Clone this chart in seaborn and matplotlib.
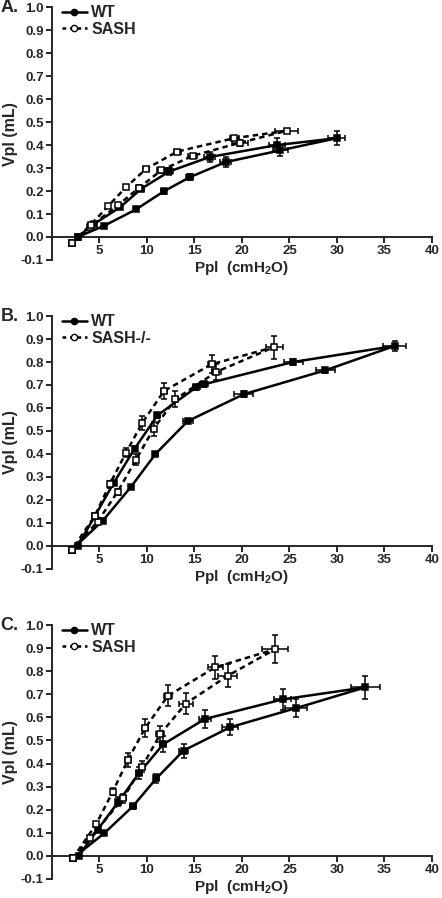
import numpy as np
import pandas as pd
import matplotlib
matplotlib.use("Agg")
import matplotlib.pyplot as plt
from matplotlib.lines import Line2D
import seaborn as sns

# ---- data: each series is one loop (inflation then deflation) ----
# Panel A
a_wt_p = [2.7, 5.5, 8.85, 11.75, 14.5, 18.3, 24.05, 30.0, 23.7, 16.6, 12.35, 9.4, 7.2, 4.4, 2.7]
a_wt_v = [0.0, 0.049, 0.12, 0.198, 0.26, 0.326, 0.377, 0.43, 0.40, 0.348, 0.285, 0.21, 0.13, 0.056, 0.0]
a_wt_pe = [0.1, 0.2, 0.2, 0.3, 0.4, 0.6, 0.8, 0.9, 0.8, 0.6, 0.4, 0.3, 0.2, 0.2, 0.1]
a_wt_ve = [0.005, 0.007, 0.008, 0.01, 0.012, 0.02, 0.025, 0.03, 0.03, 0.02, 0.015, 0.012, 0.01, 0.008, 0.005]
a_sa_p = [2.1, 4.0, 7.0, 9.2, 11.5, 14.8, 19.8, 24.7, 19.2, 13.2, 9.9, 7.8, 5.95, 4.1, 2.1]
a_sa_v = [-0.025, 0.045, 0.14, 0.215, 0.29, 0.353, 0.41, 0.462, 0.43, 0.372, 0.296, 0.217, 0.136, 0.054, -0.025]
a_sa_pe = [0.1, 0.2, 0.2, 0.3, 0.4, 0.5, 0.8, 1.2, 0.5, 0.4, 0.3, 0.2, 0.2, 0.1, 0.1]
a_sa_ve = [0.005, 0.006, 0.008, 0.01, 0.01, 0.01, 0.012, 0.01, 0.01, 0.008, 0.008, 0.006, 0.006, 0.005, 0.005]

# Panel B
b_wt_p = [2.1, 5.35, 8.3, 10.9, 14.3, 20.2, 28.8, 36.1, 25.4, 16.0, 15.2, 11.1, 8.7, 6.5, 4.5, 2.7]
b_wt_v = [-0.016, 0.11, 0.256, 0.40, 0.543, 0.66, 0.764, 0.87, 0.80, 0.703, 0.69, 0.568, 0.423, 0.274, 0.129, 0.0]
b_wt_pe = [0.1, 0.2, 0.2, 0.3, 0.5, 1.0, 1.0, 1.2, 1.0, 0.4, 0.4, 0.3, 0.2, 0.2, 0.2, 0.1]
b_wt_ve = [0.005, 0.008, 0.01, 0.01, 0.01, 0.012, 0.012, 0.02, 0.015, 0.01, 0.01, 0.01, 0.01, 0.01, 0.008, 0.005]
b_sa_p = [2.1, 4.8, 6.9, 8.85, 10.7, 13.0, 17.3, 23.4, 16.8, 11.8, 9.5, 7.8, 6.1, 4.5, 2.1]
b_sa_v = [-0.016, 0.105, 0.235, 0.375, 0.51, 0.638, 0.757, 0.865, 0.79, 0.674, 0.535, 0.406, 0.27, 0.13, -0.016]
b_sa_pe = [0.1, 0.2, 0.2, 0.2, 0.3, 0.3, 0.5, 0.9, 0.4, 0.3, 0.2, 0.2, 0.2, 0.2, 0.1]
b_sa_ve = [0.005, 0.008, 0.012, 0.025, 0.03, 0.035, 0.035, 0.05, 0.04, 0.035, 0.03, 0.02, 0.012, 0.008, 0.005]

# Panel C
c_wt_p = [2.2, 5.5, 8.5, 11.0, 13.85, 18.75, 25.7, 33.0, 24.3, 16.1, 11.7, 9.2, 7.0, 4.8, 2.8]
c_wt_v = [-0.01, 0.098, 0.214, 0.336, 0.456, 0.557, 0.64, 0.73, 0.678, 0.593, 0.483, 0.36, 0.235, 0.113, 0.0]
c_wt_pe = [0.1, 0.2, 0.3, 0.3, 0.5, 0.8, 1.2, 1.5, 0.9, 0.6, 0.3, 0.3, 0.3, 0.2, 0.1]
c_wt_ve = [0.005, 0.008, 0.012, 0.02, 0.03, 0.035, 0.04, 0.05, 0.045, 0.04, 0.035, 0.025, 0.02, 0.01, 0.005]
c_sa_p = [2.2, 4.0, 7.5, 9.5, 11.4, 14.1, 18.5, 23.5, 17.2, 12.2, 9.8, 8.0, 6.4, 4.65, 2.2]
c_sa_v = [-0.01, 0.076, 0.25, 0.387, 0.527, 0.66, 0.78, 0.895, 0.817, 0.693, 0.553, 0.416, 0.278, 0.137, -0.01]
c_sa_pe = [0.1, 0.2, 0.3, 0.3, 0.4, 0.7, 1.0, 1.4, 0.8, 0.4, 0.3, 0.3, 0.2, 0.2, 0.1]
c_sa_ve = [0.005, 0.01, 0.02, 0.025, 0.035, 0.045, 0.05, 0.06, 0.05, 0.045, 0.04, 0.03, 0.015, 0.01, 0.005]

panels = [
    ("A.", "SASH", (a_wt_p, a_wt_v, a_wt_pe, a_wt_ve), (a_sa_p, a_sa_v, a_sa_pe, a_sa_ve)),
    ("B.", "SASH-/-", (b_wt_p, b_wt_v, b_wt_pe, b_wt_ve), (b_sa_p, b_sa_v, b_sa_pe, b_sa_ve)),
    ("C.", "SASH", (c_wt_p, c_wt_v, c_wt_pe, c_wt_ve), (c_sa_p, c_sa_v, c_sa_pe, c_sa_ve)),
]

x_ticks = [5, 10, 15, 20, 25, 30, 35, 40]
y_ticks = [round(-0.1 + 0.1 * i, 1) for i in range(12)]

sns.set_style("ticks")
plt.rcParams["font.family"] = ["Liberation Sans", "DejaVu Sans"]
plt.rcParams["font.weight"] = "bold"
plt.rcParams["mathtext.fontset"] = "custom"
plt.rcParams["mathtext.rm"] = "Liberation Sans:bold"
plt.rcParams["mathtext.bf"] = "Liberation Sans:bold"

fig = plt.figure(figsize=(4.42, 8.98), dpi=100)
# axes boxes [left, bottom, width, height] in figure fraction
boxes = [[0.1176, 0.7105, 0.8594, 0.2815],
         [0.1176, 0.3664, 0.8594, 0.2817],
         [0.1176, 0.0212, 0.8594, 0.2828]]

for (label, sash_name, wt, sa), box in zip(panels, boxes):
    ax = fig.add_axes(box)
    for data, ls, face in [(wt, "-", "black"), (sa, (0, (2.2, 1.6)), "white")]:
        p, v, pe, ve = data
        df = pd.DataFrame({"p": p, "v": v})
        ax.errorbar(p, v, xerr=pe, yerr=ve, fmt="none", ecolor="black",
                    elinewidth=1.1, capsize=2.5, capthick=1.1, zorder=2)
        sns.lineplot(data=df, x="p", y="v", sort=False, estimator=None, ax=ax,
                     color="black", linewidth=1.8, linestyle=ls, marker="s",
                     markersize=4.5, markerfacecolor=face, markeredgecolor="black",
                     markeredgewidth=1.1, zorder=3)

    ax.set_xlim(0, 40)
    ax.set_ylim(-0.1, 1.0)
    ax.spines["bottom"].set_position(("data", 0))
    ax.spines["top"].set_visible(False)
    ax.spines["right"].set_visible(False)
    for s in ["bottom", "left"]:
        ax.spines[s].set_linewidth(1.4)
    ax.set_xticks(x_ticks)
    ax.set_yticks(y_ticks)
    ax.set_yticklabels([f"{t:.1f}" for t in y_ticks])
    ax.tick_params(axis="both", direction="out", length=4, width=1.4,
                   labelsize=9.5, pad=2)
    for t in ax.get_xticklabels() + ax.get_yticklabels():
        t.set_fontweight("bold")
    ax.set_xlabel(r"Ppl  (cmH$_\mathbf{2}$O)", fontsize=11, fontweight="bold", labelpad=1)
    ax.set_ylabel("Vpl (mL)", fontsize=11.5, fontweight="bold", labelpad=2)

    handles = [
        Line2D([], [], color="black", linewidth=1.8, marker="o", markersize=4.5,
               markerfacecolor="black"),
        Line2D([], [], color="black", linewidth=1.8, linestyle=(0, (1.5, 1.5)),
               marker="o", markersize=4.5, markerfacecolor="white"),
    ]
    ax.legend(handles, ["WT", sash_name], loc="upper left", bbox_to_anchor=(0.0, 1.045),
              frameon=False, handlelength=1.6, handletextpad=0.25, labelspacing=0.1,
              borderaxespad=0.2, prop={"weight": "bold", "size": 11.5})
    ax.text(-0.135, 1.0, label, transform=ax.transAxes, fontsize=13,
            fontweight="bold", ha="left", va="center")

fig.savefig("out.png", dpi=100)
